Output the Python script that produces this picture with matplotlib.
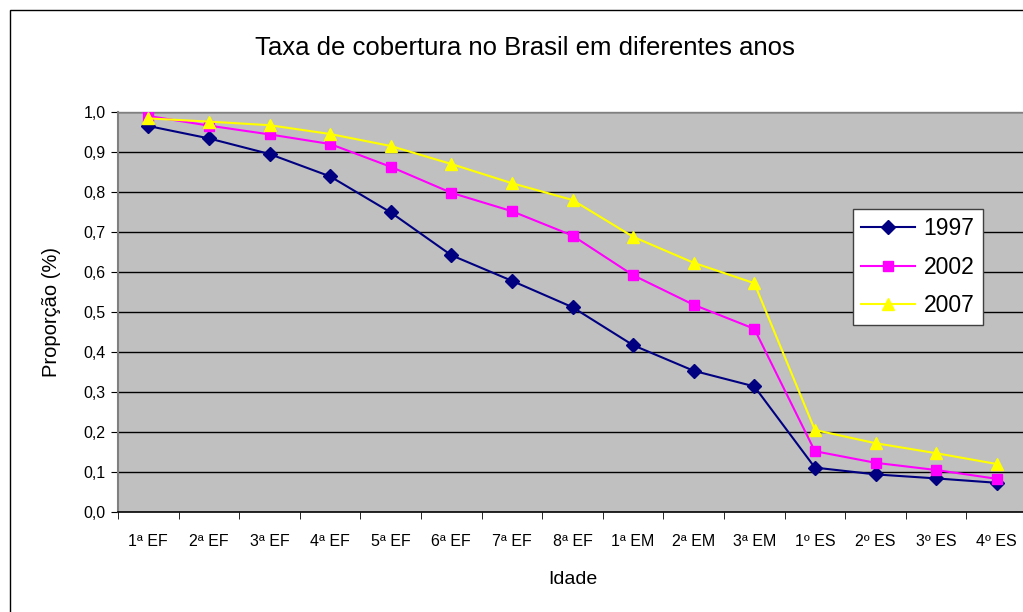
import matplotlib
matplotlib.use("Agg")
import matplotlib.pyplot as plt
from matplotlib.patches import Rectangle

categories = ["1ª EF", "2ª EF", "3ª EF", "4ª EF", "5ª EF", "6ª EF", "7ª EF", "8ª EF",
              "1ª EM", "2ª EM", "3ª EM", "1º ES", "2º ES", "3º ES", "4º ES"]
s1997 = [0.965, 0.934, 0.895, 0.839, 0.749, 0.642, 0.578, 0.512, 0.417, 0.353, 0.314,
         0.111, 0.094, 0.084, 0.073]
s2002 = [0.990, 0.966, 0.944, 0.920, 0.863, 0.798, 0.752, 0.691, 0.592, 0.518, 0.458,
         0.152, 0.123, 0.105, 0.083]
s2007 = [0.984, 0.976, 0.967, 0.945, 0.915, 0.870, 0.822, 0.780, 0.688, 0.623, 0.572,
         0.205, 0.172, 0.147, 0.120]
yticks = [0.0, 0.1, 0.2, 0.3, 0.4, 0.5, 0.6, 0.7, 0.8, 0.9, 1.0]
ytick_labels = ["0,0", "0,1", "0,2", "0,3", "0,4", "0,5", "0,6", "0,7", "0,8", "0,9", "1,0"]

plt.rcParams['font.family'] = ['Liberation Sans', 'DejaVu Sans']

W, H = 1023, 612
fig = plt.figure(figsize=(W / 100, H / 100), dpi=100)
fig.patch.set_facecolor("white")

# chart border
fig.patches.append(Rectangle((10 / W, -0.05), 1.1, 1 - 10 / H + 0.05, transform=fig.transFigure,
                             fill=False, edgecolor="black", linewidth=1.0))

left, right, top, bottom = 118, 1027, 112, 512
ax = fig.add_axes([left / W, 1 - bottom / H, (right - left) / W, (bottom - top) / H])
ax.set_facecolor("#C0C0C0")

x = list(range(len(categories)))
ax.set_xlim(-0.5, len(categories) - 0.5)
ax.set_ylim(0, 1.0)
ax.set_yticks(yticks)
ax.set_yticklabels(ytick_labels, fontsize=11.5)
for yv in yticks[1:]:
    ax.axhline(yv, color="black", linewidth=1.0, zorder=1)

ax.plot(x, s1997, color="#000080", marker="D", markersize=7, linewidth=1.5, label="1997", zorder=3)
ax.plot(x, s2002, color="#FF00FF", marker="s", markersize=7.5, linewidth=1.5, label="2002", zorder=3)
ax.plot(x, s2007, color="#FFFF00", marker="^", markersize=9, linewidth=1.5, label="2007", zorder=3)

ax.set_xticks(x)
ax.set_xticklabels(categories, fontsize=11.5)
ax.tick_params(axis="x", which="major", length=0, pad=16)
ax.set_xticks([i + 0.5 for i in range(-1, len(categories))], minor=True)
ax.tick_params(axis="x", which="minor", length=5, direction="out", color="black")
ax.tick_params(axis="y", length=5, direction="out", color="black", pad=4)

for sp in ["top", "right"]:
    ax.spines[sp].set_color("#808080")
    ax.spines[sp].set_linewidth(1.0)
ax.spines["left"].set_color("#808080")
ax.spines["left"].set_linewidth(1.5)
ax.spines["bottom"].set_color("black")
ax.spines["bottom"].set_linewidth(1.2)

ax.set_ylabel("Proporção (%)", fontsize=14.5, labelpad=16)
ax.set_xlabel("Idade", fontsize=14, labelpad=16)

fig.text(525 / W, 1 - 48 / H, "Taxa de cobertura no Brasil em diferentes anos",
         ha="center", va="center", fontsize=18.5)

leg = ax.legend(loc="upper left", bbox_to_anchor=((852.7 - left) / (right - left), 1 - (209 - top) / (bottom - top)),
                fontsize=16.5, frameon=True, fancybox=False, edgecolor="#404040",
                framealpha=1.0, borderpad=0.35, labelspacing=0.68, handlelength=2.35,
                handletextpad=0.4, borderaxespad=0)
leg.get_frame().set_linewidth(1.0)

fig.savefig("out.png", dpi=100)
